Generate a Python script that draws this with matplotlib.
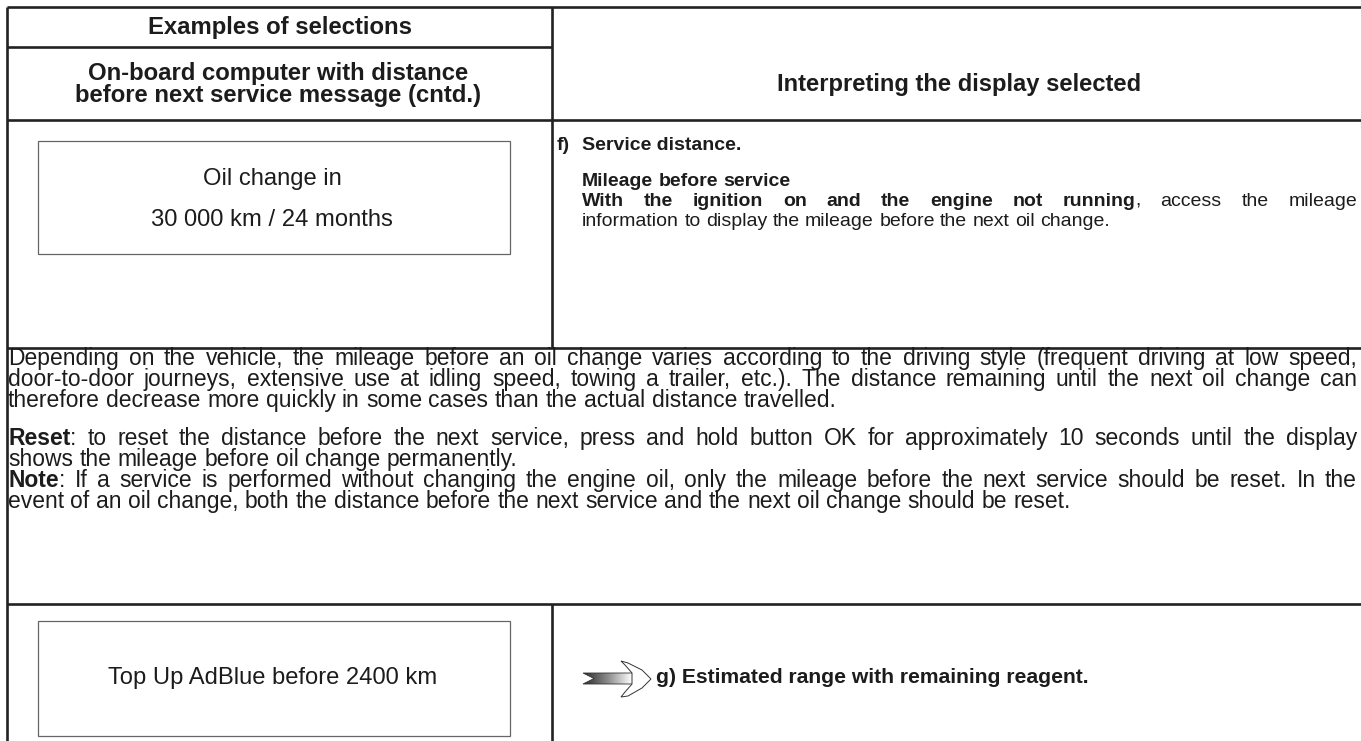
import matplotlib
matplotlib.use("Agg")
import numpy as np
from matplotlib import pyplot as plt
from matplotlib import font_manager
from matplotlib.colors import LinearSegmentedColormap
from matplotlib.patches import Polygon, Rectangle

# ---- content ----
header_left_top = "Examples of selections"
header_left_sub = ["On-board computer with distance",
                   "before next service message (cntd.)"]
header_right = "Interpreting the display selected"

display_oil = ["Oil change in", "30 000 km / 24 months"]
display_adblue = "Top Up AdBlue before 2400 km"

service_label = "f)"
service_title = "Service distance."
service_lines = [
    "**Mileage before service**",
    "**With the ignition on and the engine not running**, access the mileage",
    "information to display the mileage before the next oil change.",
]
service_justify = [False, True, False]

body_lines = [
    "Depending on the vehicle, the mileage before an oil change varies according to the driving style (frequent driving at low speed,",
    "door-to-door journeys, extensive use at idling speed, towing a trailer, etc.). The distance remaining until the next oil change can",
    "therefore decrease more quickly in some cases than the actual distance travelled.",
    "**Reset**: to reset the distance before the next service, press and hold button OK for approximately 10 seconds until the display",
    "shows the mileage before oil change permanently.",
    "**Note**: If a service is performed without changing the engine oil, only the mileage before the next service should be reset. In the",
    "event of an oil change, both the distance before the next service and the next oil change should be reset.",
]
body_justify = [True, True, False, True, False, True, False]

range_title = "g) Estimated range with remaining reagent."

# ---- layout (pixels) ----
W, H = 1361, 741
body_y = [365, 386, 407, 445, 466, 487, 508]
service_y = [186, 206, 226]

ink = "#1c1c1c"
rule = "#222222"
FONT = "Liberation Sans"
names = {f.name for f in font_manager.fontManager.ttflist}
if "Liberation Sans Narrow" in names:
    NARROW, narrow_pt = "Liberation Sans Narrow", 17
else:
    NARROW, narrow_pt = "Liberation Sans", 14
head_pt = 17.2
body_pt = 16.5
disp_pt = 17.1

fig = plt.figure(figsize=(W / 100, H / 100), dpi=100)
ax = fig.add_axes([0, 0, 1, 1])
ax.set_xlim(0, W)
ax.set_ylim(H, 0)
ax.axis("off")
renderer = fig.canvas.get_renderer()


def parse(line):
    words, bold = [], False
    for token in line.split(" "):
        segs = []
        for i, part in enumerate(token.split("**")):
            if i > 0:
                bold = not bold
            if part:
                segs.append((part, bold))
        words.append(segs)
    return words


def width_of(s, size, family, bold):
    t = ax.text(0, 0, s, fontsize=size, family=family,
                fontweight="bold" if bold else "normal")
    w = t.get_window_extent(renderer).width
    t.remove()
    return w


def draw_line(line, x0, x1, y, size, family, justify):
    words = parse(line)
    widths = [[width_of(s, size, family, b) for s, b in segs] for segs in words]
    total = sum(sum(w) for w in widths)
    space = size * 100 / 72 * 0.278
    if justify and len(words) > 1:
        space = (x1 - x0 - total) / (len(words) - 1)
    x = x0
    for segs, ws in zip(words, widths):
        for (s, b), w in zip(segs, ws):
            ax.text(x, y, s, fontsize=size, family=family, color=ink,
                    fontweight="bold" if b else "normal",
                    ha="left", va="baseline")
            x += w
        x += space


def hline(y, x0=7, x1=W):
    ax.plot([x0, x1], [y, y], color=rule, lw=1.9, solid_capstyle="butt")


def vline(x, y0, y1):
    ax.plot([x, x], [y0, y1], color=rule, lw=1.9, solid_capstyle="butt")


# table rules
hline(7)
hline(47, 7, 552)
hline(120)
hline(348)
hline(604)
vline(7, 7, H)
vline(552, 7, 348)
vline(552, 604, H)

# header
ax.text(280, 34, header_left_top, fontsize=head_pt, fontweight="bold",
        family=FONT, color=ink, ha="center", va="baseline")
for txt, y in zip(header_left_sub, [80, 102]):
    ax.text(278, y, txt, fontsize=head_pt, fontweight="bold", family=FONT,
            color=ink, ha="center", va="baseline")
ax.text(959, 91, header_right, fontsize=narrow_pt * 1.22, fontweight="bold",
        family=NARROW, color=ink, ha="center", va="baseline")

# display boxes
for (x0, y0, x1, y1) in [(38, 141, 510, 254), (38, 621, 510, 736)]:
    ax.add_patch(Rectangle((x0, y0), x1 - x0, y1 - y0, fill=False,
                           edgecolor="#666666", lw=0.9))
for txt, y in zip(display_oil, [185, 226]):
    ax.text(272, y, txt, fontsize=disp_pt, family=FONT, color=ink,
            ha="center", va="baseline")
ax.text(273, 684, display_adblue, fontsize=disp_pt, family=FONT, color=ink,
        ha="center", va="baseline")

# service distance
ax.text(557, 150, service_label, fontsize=narrow_pt, fontweight="bold",
        family=NARROW, color=ink, ha="left", va="baseline")
ax.text(582, 150, service_title, fontsize=narrow_pt, fontweight="bold",
        family=NARROW, color=ink, ha="left", va="baseline")
for line, y, j in zip(service_lines, service_y, service_justify):
    draw_line(line, 582, 1357, y, narrow_pt, NARROW, j)

# body paragraph
for line, y, j in zip(body_lines, body_y, body_justify):
    draw_line(line, 8, 1357, y, body_pt, FONT, j)

# arrow
shaft = Polygon([(583, 673), (634, 673), (634, 684), (583, 684), (594, 678.5)],
                closed=True, facecolor="none", edgecolor="#333333", lw=0.6)
ax.add_patch(shaft)
grad = np.linspace(0, 1, 256).reshape(1, -1)
cmap = LinearSegmentedColormap.from_list("arr", ["#2a2a2a", "#8a8a8a", "#ffffff"])
im = ax.imshow(grad, extent=(583, 632, 684, 673), cmap=cmap, aspect="auto",
               interpolation="bilinear")
im.set_clip_path(shaft)
head = Polygon([(632, 673), (625, 665), (621, 661), (628, 663), (642, 670),
                (651, 679), (642, 688), (628, 696), (621, 697), (625, 692),
                (632, 684)],
               closed=True, facecolor="white", edgecolor="#333333", lw=0.7)
ax.add_patch(head)
ax.set_xlim(0, W)
ax.set_ylim(H, 0)

ax.text(656, 683, range_title, fontsize=narrow_pt * 1.09, fontweight="bold",
        family=NARROW, color=ink, ha="left", va="baseline")

fig.savefig("out.png", dpi=100)
